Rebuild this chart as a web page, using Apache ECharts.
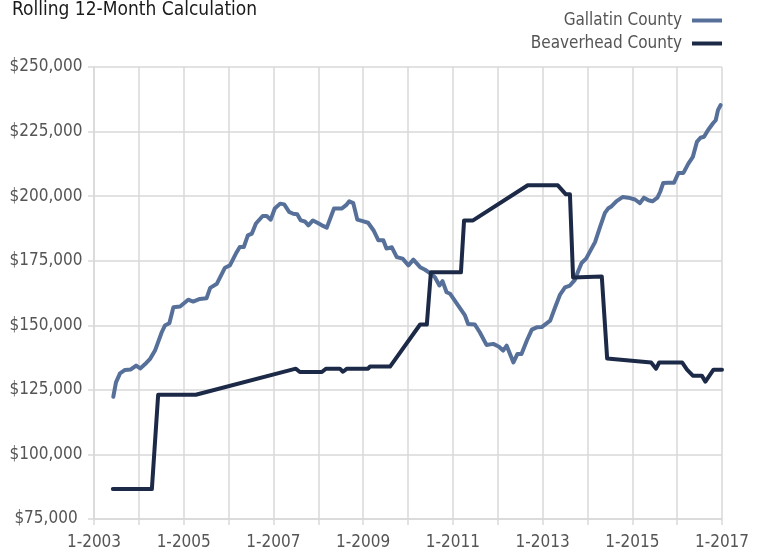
<!DOCTYPE html>
<html>
<head>
<meta charset="utf-8">
<title>Rolling 12-Month Calculation</title>
<script src="https://cdn.jsdelivr.net/npm/echarts@6/dist/echarts.min.js"></script>
<style>
  html, body { margin: 0; padding: 0; background: #fff; }
  #main { width: 759px; height: 552px; }
</style>
</head>
<body>
<div id="main"></div>
<script>
// decimal year of each point
var gallatinT = [
  2003.43, 2003.49, 2003.58, 2003.69, 2003.82, 2003.94, 2004.03, 2004.14, 2004.25, 2004.36,
  2004.51, 2004.58, 2004.68, 2004.77, 2004.92, 2005.10, 2005.21, 2005.36, 2005.51, 2005.59,
  2005.74, 2005.92, 2006.03, 2006.18, 2006.25, 2006.34, 2006.43, 2006.52, 2006.61, 2006.76,
  2006.85, 2006.94, 2007.03, 2007.15, 2007.24, 2007.35, 2007.44, 2007.53, 2007.61, 2007.70,
  2007.78, 2007.88, 2007.98, 2008.08, 2008.19, 2008.35, 2008.52, 2008.62, 2008.69, 2008.78,
  2008.87, 2008.97, 2009.11, 2009.23, 2009.34, 2009.45, 2009.52, 2009.64, 2009.75, 2009.88,
  2010.01, 2010.12, 2010.27, 2010.38, 2010.49, 2010.60, 2010.70, 2010.77, 2010.86, 2010.94,
  2011.12, 2011.27, 2011.34, 2011.49, 2011.60, 2011.75, 2011.90, 2012.03, 2012.12, 2012.20,
  2012.29, 2012.35, 2012.44, 2012.53, 2012.65, 2012.76, 2012.87, 2012.98, 2013.17, 2013.28,
  2013.39, 2013.50, 2013.61, 2013.72, 2013.80, 2013.87, 2013.97, 2014.07, 2014.17, 2014.28,
  2014.39, 2014.46, 2014.54, 2014.65, 2014.79, 2014.91, 2015.06, 2015.17, 2015.26, 2015.36,
  2015.45, 2015.56, 2015.62, 2015.69, 2015.80, 2015.93, 2016.03, 2016.14, 2016.25, 2016.35,
  2016.44, 2016.52, 2016.60, 2016.69, 2016.80, 2016.86, 2016.91, 2016.97
];
var gallatinV = [
  122300, 127900, 131400, 132700, 132900, 134400, 133300, 135000, 137000, 140200,
  147300, 149900, 150800, 157000, 157300, 159900, 159200, 160200, 160500, 164500,
  166100, 172300, 173200, 178300, 180300, 180300, 184800, 185500, 189400, 192300,
  192300, 190900, 195200, 197100, 196800, 193900, 193200, 193000, 190600, 190200,
  188700, 190600, 189700, 188700, 187800, 195200, 195200, 196500, 198000, 197300,
  190900, 190400, 189700, 186800, 182900, 182900, 179700, 180200, 176400, 175800,
  173200, 175400, 172500, 171500, 170200, 168600, 165400, 167100, 162800, 162200,
  157600, 153800, 150500, 150300, 147300, 142400, 142800, 141700, 140200, 142100,
  138200, 135600, 138900, 138900, 144100, 148300, 149200, 149300, 151800, 157000,
  161900, 164700, 165400, 167600, 171200, 174100, 175800, 179000, 182200, 188000,
  193500, 195200, 196100, 198100, 199700, 199400, 198700, 197300, 199400, 198400,
  198000, 199400, 201600, 205100, 205200, 205200, 209000, 209000, 212600, 215200,
  221000, 222600, 223000, 225600, 228200, 229400, 233300, 235300
];

var beaverT = [
  2003.42, 2004.29, 2004.43, 2005.27, 2007.50, 2007.59, 2008.08, 2008.17, 2008.48, 2008.55,
  2008.64, 2009.11, 2009.15, 2009.60, 2010.27, 2010.42, 2010.51, 2011.18, 2011.25, 2011.45,
  2012.67, 2013.34, 2013.52, 2013.61, 2013.68, 2014.32, 2014.44, 2015.42, 2015.53, 2015.60,
  2016.11, 2016.22, 2016.35, 2016.55, 2016.63, 2016.81, 2017.00
];
var beaverV = [
  86600, 86600, 123100, 123100, 133200, 131900, 131900, 133200, 133200, 132000,
  133200, 133200, 134000, 134000, 150300, 150300, 170500, 170500, 190600, 190600,
  204200, 204200, 200700, 200700, 168500, 168900, 137100, 135600, 133200, 135600,
  135600, 132800, 130500, 130500, 128200, 132800, 132800
];

var labelYears = [2003, 2005, 2007, 2009, 2011, 2013, 2015, 2017];

function pairs(t, v) {
  var out = [];
  for (var i = 0; i < Math.min(t.length, v.length); i++) {
    out.push([t[i], v[i]]);
  }
  return out;
}

var font = '"Liberation Sans Narrow", "DejaVu Sans Condensed", Arial, sans-serif';
var gridColor = '#d9d9d9';

var option = {
    animation: false,
    backgroundColor: '#fff',
    title: {
        text: 'Rolling 12-Month Calculation',
        left: 12,
        top: 1,
        padding: 0,
        textStyle: { fontFamily: font, fontSize: 19, fontWeight: 'normal', color: '#1a1a1a' }
    },
    legend: {
        data: [
            { name: 'Gallatin County', icon: 'rect' },
            { name: 'Beaverhead County', icon: 'rect' }
        ],
        orient: 'vertical',
        align: 'right',
        right: 37,
        top: 12,
        padding: 0,
        itemWidth: 30,
        itemHeight: 4,
        itemGap: 6,
        textStyle: { fontFamily: font, fontSize: 17, color: '#555', padding: [0, 5, 0, 0] }
    },
    grid: { left: 94, right: 37, top: 67, bottom: 33 },
    xAxis: {
        type: 'value',
        min: 2003,
        max: 2017,
        interval: 1,
        axisLine: { show: true, lineStyle: { color: gridColor, width: 1.5 } },
        axisTick: { show: true, length: 6, lineStyle: { color: gridColor, width: 1.5 } },
        splitLine: { show: true, lineStyle: { color: gridColor, width: 1.5 } },
        axisLabel: {
            margin: 15,
            fontFamily: font,
            fontSize: 17,
            color: '#555',
            formatter: function (v) {
                return labelYears.indexOf(Math.round(v)) >= 0 ? '1-' + Math.round(v) : '';
            }
        }
    },
    yAxis: {
        type: 'value',
        min: 75000,
        max: 250000,
        interval: 25000,
        axisLine: { show: true, lineStyle: { color: gridColor, width: 1.5 } },
        axisTick: { show: true, length: 6, lineStyle: { color: gridColor, width: 1.5 } },
        splitLine: { show: true, lineStyle: { color: gridColor, width: 1.5 } },
        axisLabel: {
            margin: 48,
            align: 'center',
            fontFamily: font,
            fontSize: 17,
            color: '#555',
            formatter: function (v) {
                return '$' + v.toLocaleString('en-US');
            }
        }
    },
    series: [{
        name: 'Gallatin County',
        type: 'line',
        data: pairs(gallatinT, gallatinV),
        showSymbol: false,
        color: '#56709a',
        lineStyle: { width: 4, color: '#56709a', cap: 'round', join: 'round' }
    }, {
        name: 'Beaverhead County',
        type: 'line',
        data: pairs(beaverT, beaverV),
        showSymbol: false,
        color: '#1c2a48',
        lineStyle: { width: 4, color: '#1c2a48', cap: 'round', join: 'round' }
    }]
};

var myChart = echarts.init(document.getElementById('main'));
myChart.setOption(option);
</script>
</body>
</html>
